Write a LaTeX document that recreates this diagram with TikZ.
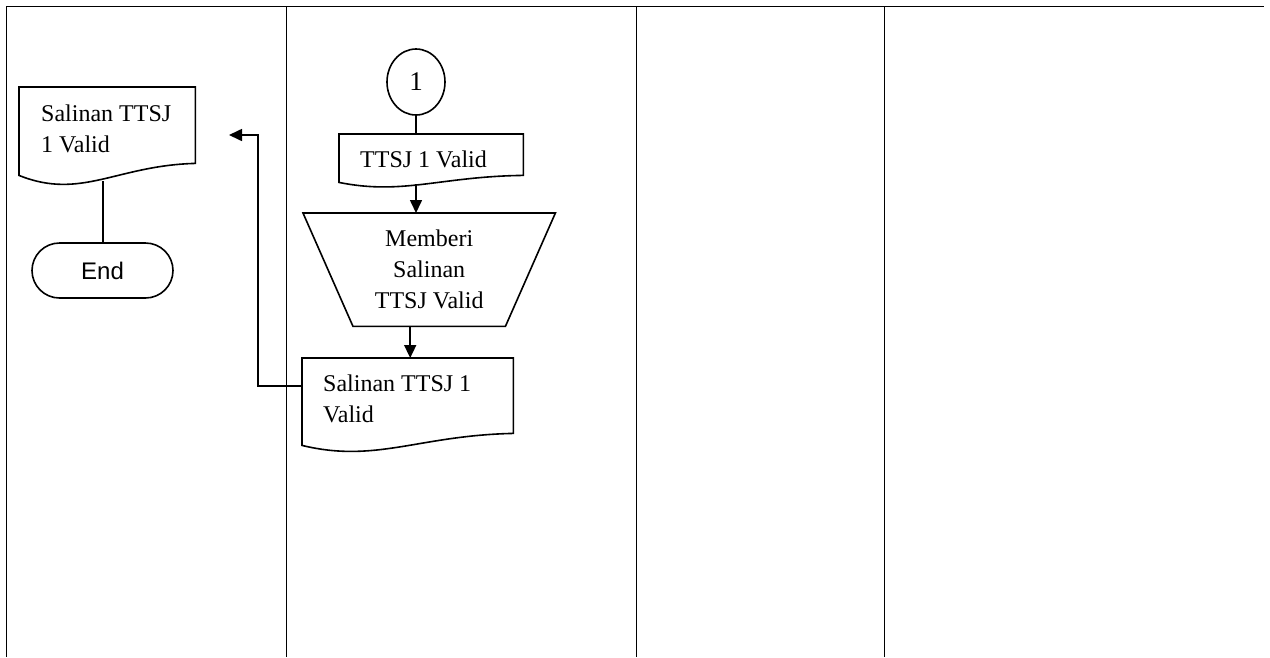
\documentclass[tikz,border=0pt]{standalone}
\usepackage{fontspec}
\setmainfont{Liberation Serif}
\newfontfamily\arialf{Liberation Sans}
\usetikzlibrary{arrows.meta,calc,shapes.geometric}
\begin{document}
\begin{tikzpicture}[x=1pt,y=-1pt,
  lane/.style={line width=0.8pt},
  shp/.style={line width=1.6pt},
  arr/.style={line width=1.6pt,-{Triangle[length=13pt,width=12pt]}},
  frame/.style={inner sep=0pt,anchor=north west},
  txt/.style={inner sep=0pt,anchor=north west,align=left,font=\fontsize{24}{31}\selectfont}]
\useasboundingbox (0,0) rectangle (1270,657);
% lanes
\draw[lane] (6,6) -- (1264,6);
\foreach \x in {6,286,636,884} \draw[lane] (\x,6) -- (\x,657);

% left document
\node[frame,minimum width=176pt,minimum height=76pt] (doca) at (19,87) {};
\draw[shp] (doca.north west) -- ($(doca.south west)+(0,12)$)
  .. controls +(62,25) and +(-79,2) .. (doca.south east) -- (doca.north east) -- cycle;
\node[txt] (docat) at (41,105) {Salinan TTSJ\\1 Valid};

% End terminator
\node[draw,shp,inner sep=0pt,minimum width=141pt,minimum height=55pt,rounded corners=27.5pt,
  font=\arialf\fontsize{24}{28}\selectfont] (endn) at (102.5,270.5) {End};
\draw[shp] (endn.north |- doca.south) ++(0.5,18) -- ++(0,62);

% connector 1
\node[draw,shp,ellipse,inner sep=0pt,minimum width=58pt,minimum height=66pt,
  font=\fontsize{27}{30}\selectfont] (conn) at (416,82) {1};

% middle top document
\node[frame,minimum width=184pt,minimum height=41pt] (docb) at (339,134) {};
\draw[shp] (docb.north west) -- ($(docb.south west)+(0,7)$)
  .. controls +(64,13) and +(-83,1) .. (docb.south east) -- (docb.north east) -- cycle;
\node[inner sep=0pt,anchor=base west,font=\fontsize{24}{31}\selectfont] (docbt) at (360,167) {TTSJ 1 Valid};
\draw[shp] (conn.south) -- (conn.south |- docb.north);

% manual operation (trapezoid)
\node[frame,minimum width=252pt,minimum height=113pt,align=center,
  font=\fontsize{24}{31}\selectfont] (trap) at (303,213) {Memberi\\Salinan\\TTSJ Valid};
\draw[shp] (trap.north west) -- (trap.north east) -- ($(trap.south east)+(-50,0)$)
  -- ($(trap.south west)+(50,0)$) -- cycle;
\draw[arr] ($(conn.south |- docb.south)+(0,9)$) -- (conn.south |- trap.north);

% bottom document
\node[frame,minimum width=211pt,minimum height=75pt] (docc) at (302,358) {};
\draw[shp] (docc.north west) -- ($(docc.south west)+(0,12)$)
  .. controls +(74,18) and +(-95,2) .. (docc.south east) -- (docc.north east) -- cycle;
\node[txt] (docct) at (323,375) {Salinan TTSJ 1\\Valid};
\draw[arr] ($(trap.south)+(-19,0)$) coordinate (t1) -- (t1 |- docc.north);

% return arrow to the left lane
\coordinate (tip) at (229,135);
\draw[arr] ($(docc.north west)+(0,28)$) -- ++(-44,0) |- (tip);
\end{tikzpicture}
\end{document}
